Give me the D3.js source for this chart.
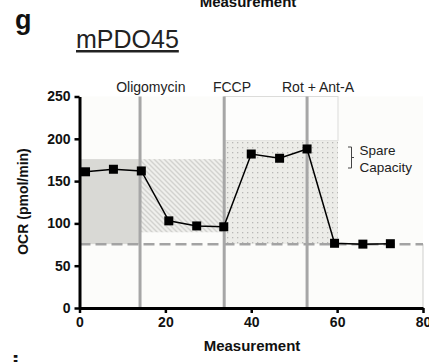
<!DOCTYPE html>
<html><head><meta charset="utf-8">
<script src="https://cdn.jsdelivr.net/npm/d3@7"></script>
<style>body{margin:0;background:#fff}svg{display:block}text{font-family:"Liberation Sans",Arial,sans-serif}</style>
</head><body><svg id="c" width="429" height="362"></svg>
<script>
const measurement = [1.4, 7.9, 14.4, 20.8, 27.3, 33.6, 40, 46.6, 53, 59.4, 66, 72.4];
const ocr = [161, 164, 162, 103, 97, 96, 182, 177, 188, 76.5, 75.5, 76];
const injections = ["Oligomycin", "FCCP", "Rot + Ant-A"];
const injectionTimes = [14.1, 33.7, 53];
const nonMito = 75.5;
const basalTop = 176, leakBottom = 89.5, maxTop = 198, maxEnd = 60.2;
const xTicks = [0, 20, 40, 60, 80];
const yTicks = [0, 50, 100, 150, 200, 250];

const svg = d3.select("#c");
const L = 79.5, T = 96.5, R = 423, B = 308;
const x = d3.scaleLinear().domain([0, 80]).range([L, R]);
const y = d3.scaleLinear().domain([0, 250]).range([B, T]);

const defs = svg.append("defs");
const hp = defs.append("pattern").attr("id","hatch").attr("patternUnits","userSpaceOnUse").attr("width",5).attr("height",5);
hp.append("rect").attr("width",5).attr("height",5).attr("fill","#efefec");
hp.append("path").attr("d","M-1,-1 L6,6 M-1,4 L1,6 M4,-1 L6,1").attr("stroke","#d2d2cf").attr("stroke-width",1.4);
const dp = defs.append("pattern").attr("id","dots").attr("patternUnits","userSpaceOnUse").attr("width",5).attr("height",5);
dp.append("rect").attr("width",5).attr("height",5).attr("fill","#ecece8");
dp.append("rect").attr("x",2).attr("y",2).attr("width",1.3).attr("height",1.3).attr("fill","#b8b8b6");

// plot background
svg.append("rect").attr("x",x(0)).attr("y",y(250)).attr("width",x(80)-x(0)).attr("height",y(0)-y(250)).attr("fill","#fcfcfa");
// region outlines
svg.append("rect").attr("x",x(injectionTimes[1])).attr("y",y(250)).attr("width",x(maxEnd)-x(injectionTimes[1])).attr("height",y(maxTop)-y(250)).attr("fill","#fdfdfc").attr("stroke","#dcdcda").attr("stroke-width",1);
svg.append("line").attr("x1",x(80)).attr("x2",x(80)).attr("y1",y(nonMito)).attr("y2",y(0)).attr("stroke","#cfcfcd").attr("stroke-width",1);
// basal
svg.append("rect").attr("x",x(0)).attr("y",y(basalTop)).attr("width",x(injectionTimes[0])-x(0)).attr("height",y(nonMito)-y(basalTop)).attr("fill","#d9d9d5");
// leak hatch
svg.append("rect").attr("x",x(injectionTimes[0])).attr("y",y(basalTop)).attr("width",x(injectionTimes[1])-x(injectionTimes[0])).attr("height",y(leakBottom)-y(basalTop)).attr("fill","url(#hatch)");
// max dots
svg.append("rect").attr("x",x(injectionTimes[1])).attr("y",y(maxTop)).attr("width",x(maxEnd)-x(injectionTimes[1])).attr("height",y(nonMito)-y(maxTop)).attr("fill","url(#dots)");

// dashed non-mito line
svg.append("line").attr("x1",x(0)).attr("x2",x(80)).attr("y1",y(nonMito)).attr("y2",y(nonMito))
  .attr("stroke","#a3a3a3").attr("stroke-width",2.5).attr("stroke-dasharray","11,5");

// injection lines
svg.selectAll(".inj").data(injectionTimes).join("line")
  .attr("x1",d=>x(d)).attr("x2",d=>x(d)).attr("y1",y(250)).attr("y2",y(0))
  .attr("stroke","#a6a6a6").attr("stroke-width",3);
const labelX = [150.8, 232, 318];
svg.selectAll(".injl").data(injections).join("text")
  .attr("x",(d,i)=>labelX[i]).attr("y",91.5).attr("text-anchor","middle")
  .attr("font-size",14).attr("fill","#222").text(d=>d);

// data line
svg.append("path").datum(measurement.map((m,i)=>[m,ocr[i]]))
  .attr("d", d3.line().x(d=>x(d[0])).y(d=>y(d[1])))
  .attr("fill","none").attr("stroke","#000").attr("stroke-width",1.5);
svg.selectAll(".pt").data(measurement).join("rect")
  .attr("x",(d)=>x(d)-4.5).attr("y",(d,i)=>y(ocr[i])-4.5).attr("width",9).attr("height",9).attr("fill","#000");

// axes
const ya = svg.append("g").attr("transform",`translate(${L},0)`)
  .call(d3.axisLeft(y).tickValues(yTicks).tickSize(5).tickSizeOuter(0).tickPadding(4));
const xa = svg.append("g").attr("transform",`translate(0,${B})`)
  .call(d3.axisBottom(x).tickValues(xTicks).tickSize(5).tickSizeOuter(0).tickPadding(4));
[ya, xa].forEach(g => {
  g.select(".domain").attr("stroke","#000").attr("stroke-width",3);
  g.selectAll(".tick line").attr("stroke","#000").attr("stroke-width",2.5);
  g.selectAll(".tick text").attr("font-size",14).attr("font-weight","bold").attr("fill","#111")
   .attr("font-family","'Liberation Sans',Arial,sans-serif");
});

// axis titles
svg.append("text").attr("x",252).attr("y",351).attr("text-anchor","middle").attr("font-size",15).attr("font-weight","bold").attr("fill","#111").text("Measurement");
svg.append("text").attr("x",248).attr("y",7).attr("text-anchor","middle").attr("font-size",15).attr("font-weight","bold").attr("fill","#111").text("Measurement");
svg.append("text").attr("transform","translate(28,201.5) rotate(-90)").attr("text-anchor","middle").attr("font-size",14).attr("font-weight","bold").attr("fill","#111").text("OCR (pmol/min)");

// title
svg.append("text").attr("x",76).attr("y",48).attr("font-size",25).attr("fill","#222").attr("text-decoration","underline").text("mPDO45");
svg.append("text").attr("x",15).attr("y",29).attr("font-size",27).attr("font-weight","bold").attr("fill","#111").text("g");
svg.append("text").attr("x",12).attr("y",374).attr("font-size",26).attr("font-weight","bold").attr("fill","#111").text("i");

// spare capacity
svg.append("path").attr("d","M348,147 H351.5 V168 H348 M351.5,157.5 H354").attr("fill","none").attr("stroke","#444").attr("stroke-width",1);
svg.append("text").attr("x",359.5).attr("y",155).attr("font-size",13.5).attr("fill","#222").text("Spare");
svg.append("text").attr("x",359.5).attr("y",171.5).attr("font-size",13.5).attr("fill","#222").text("Capacity");
</script></body></html>
